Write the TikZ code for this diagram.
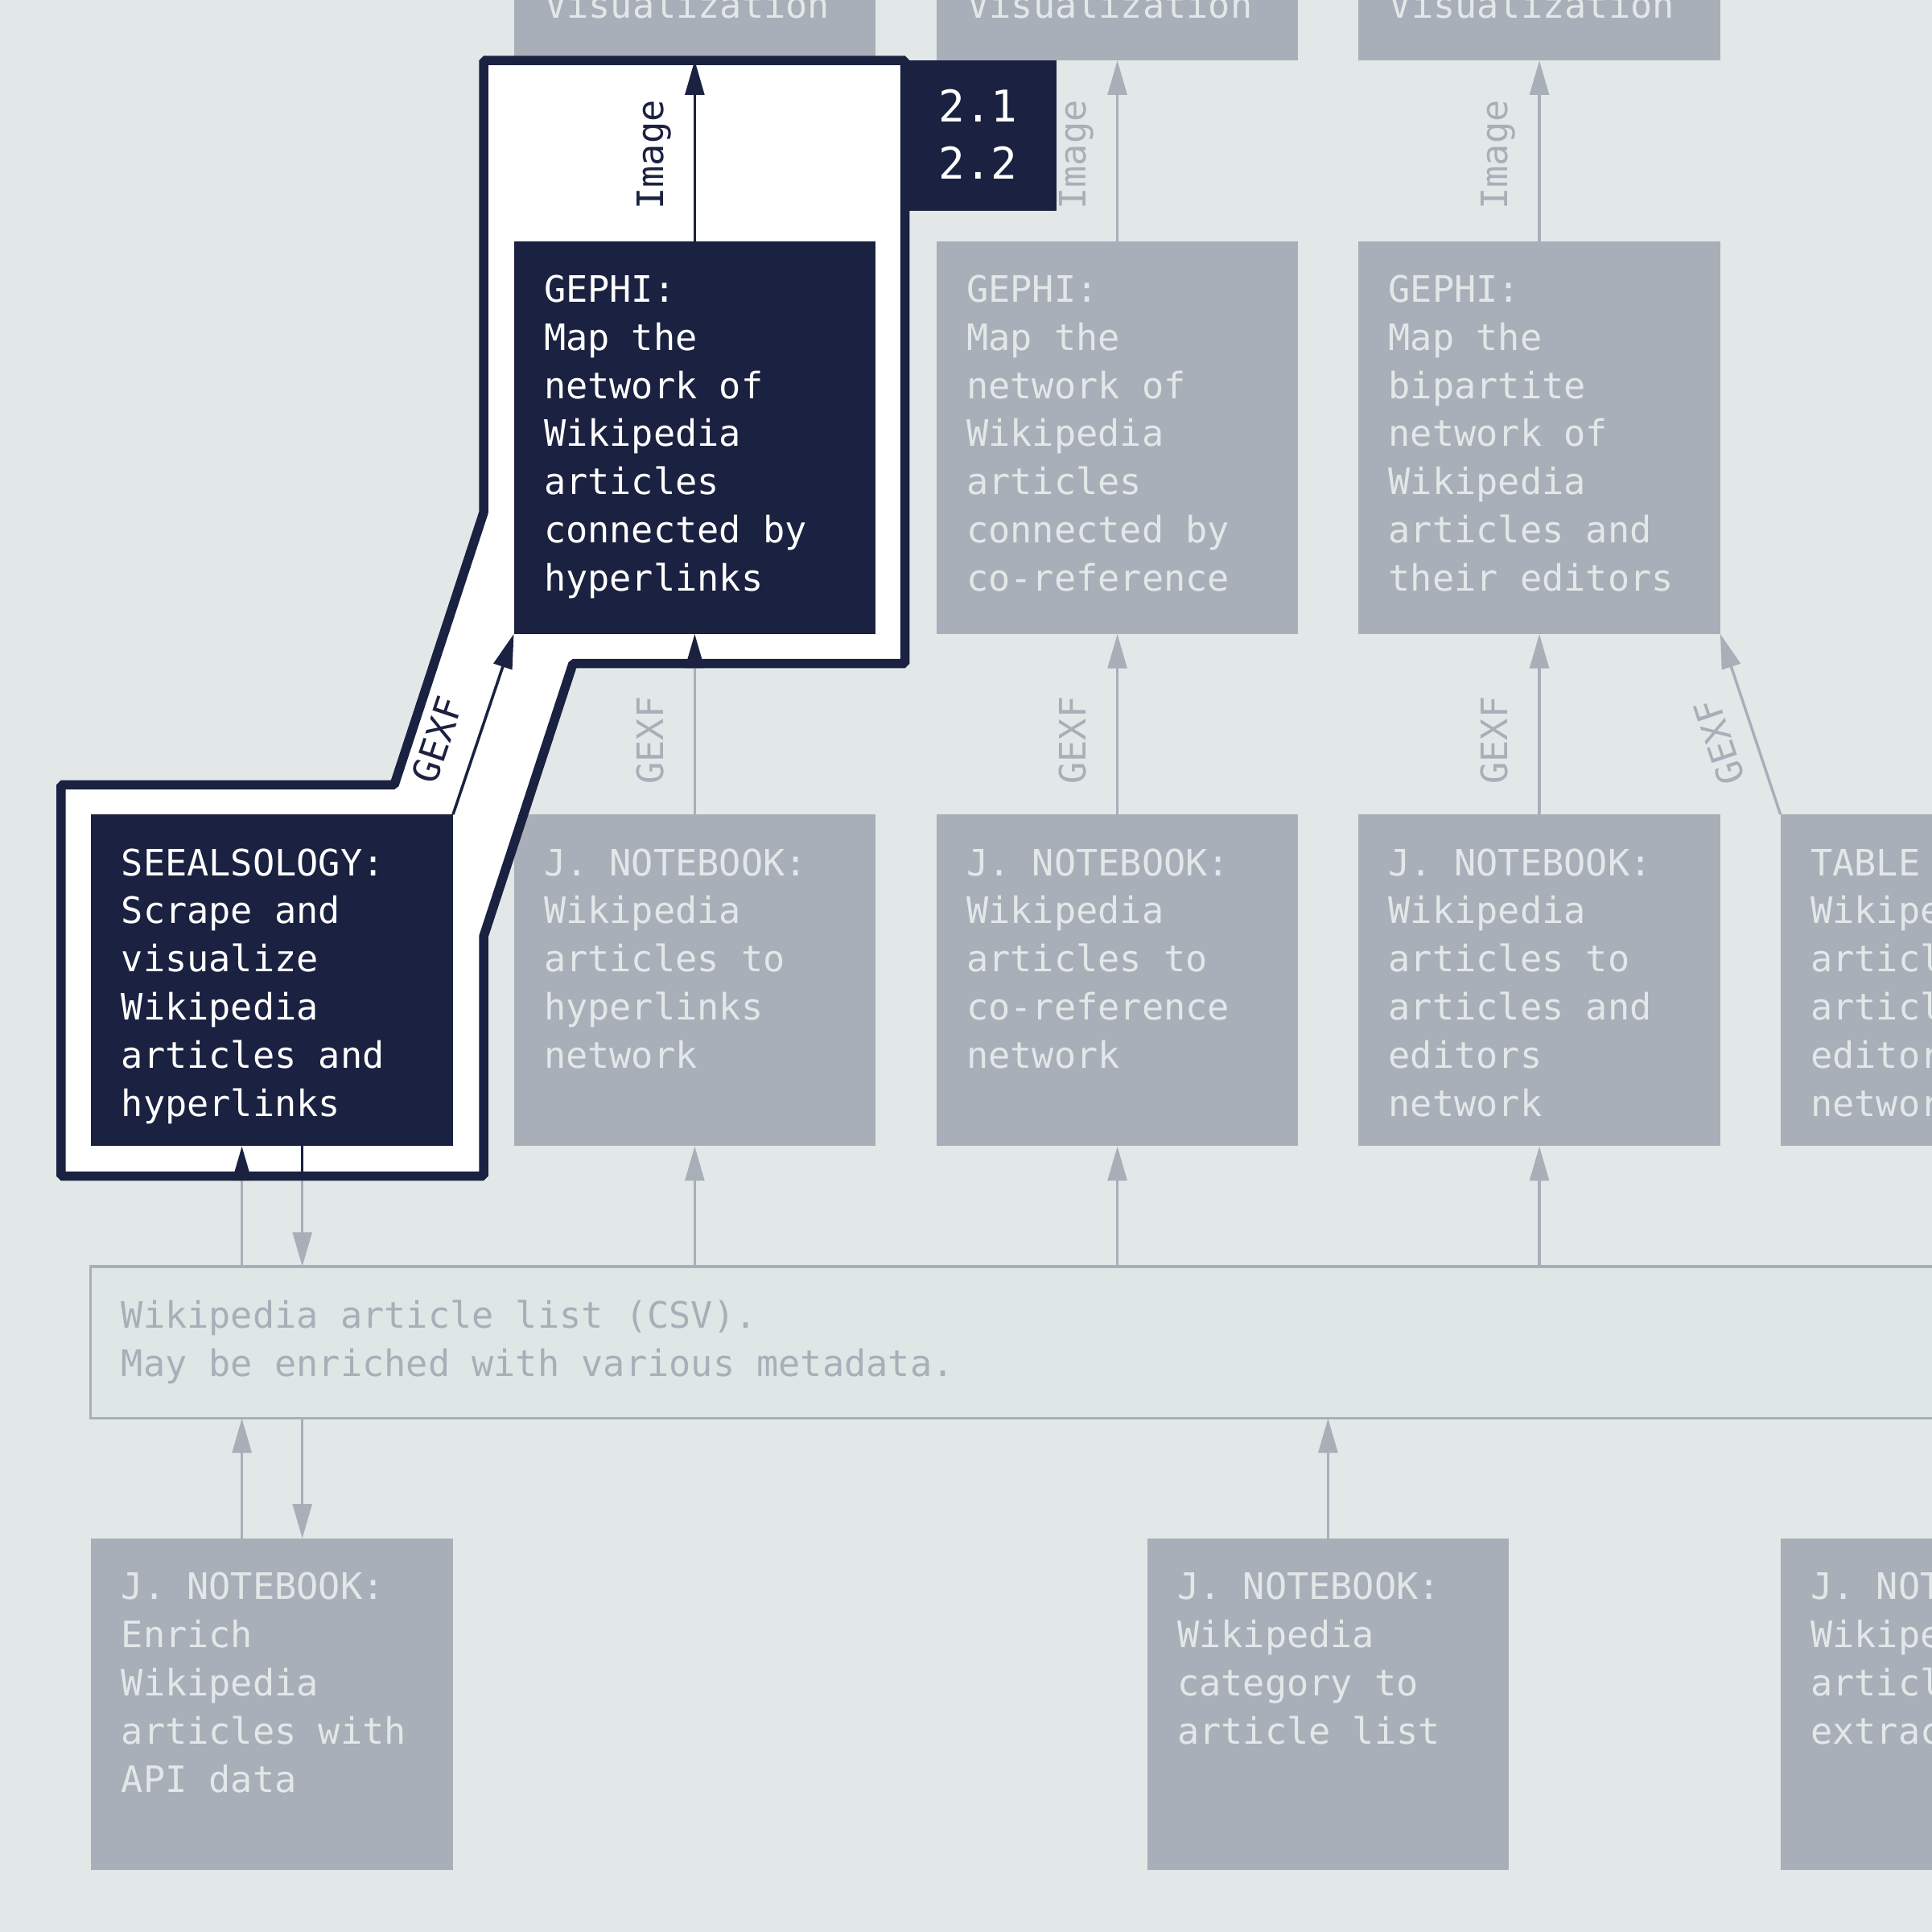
\documentclass[tikz,border=0pt]{standalone}
\usepackage{fontspec}
\usetikzlibrary{arrows.meta,calc}
\newfontfamily\dvmono{DejaVu Sans Mono}
\newcommand\boxfont{\dvmono\fontsize{8.4}{11.1}\selectfont}
\newcommand\tagfont{\dvmono\fontsize{10.1}{13.1}\selectfont}
\definecolor{bgc}{RGB}{226,232,232}
\definecolor{csvc}{RGB}{223,231,230}
\definecolor{greyc}{RGB}{168,175,184}
\definecolor{lighttxt}{RGB}{226,232,232}
\definecolor{navy}{RGB}{27,33,64}
\pgfdeclarelayer{bglayer}
\pgfdeclarelayer{greylayer}
\pgfdeclarelayer{hilayer}
\pgfsetlayers{bglayer,greylayer,hilayer,main}
\tikzset{
  box/.style={rectangle, inner sep=0pt, outer sep=0pt, minimum width=2.935cm, anchor=north west},
  tallbox/.style={box, minimum height=3.186cm},
  shortbox/.style={box, minimum height=2.691cm},
  greybox/.style={fill=greyc},
  darkbox/.style={fill=navy},
  boxtext/.style={inner sep=0pt, outer sep=0pt, anchor=north west, align=left, font=\boxfont},
  greytext/.style={boxtext, text=lighttxt},
  whitetext/.style={boxtext, text=white},
  garrow/.style={color=greyc, line width=0.65pt, -{Triangle[length=0.28cm,width=0.155cm]}},
  darrow/.style={color=navy, line width=0.65pt, -{Triangle[length=0.28cm,width=0.155cm]}},
  lbl/.style={sloped, allow upside down, anchor=south, inner xsep=0pt, inner ysep=#1,
    text height=6.1pt, text depth=0pt, font=\boxfont},
}
\begin{document}
\begin{tikzpicture}[x=0.01cm, y=-0.01cm]
\useasboundingbox (0,0) rectangle (1568,1568);
\begin{pgfonlayer}{bglayer}
  \fill[bgc] (0,0) rectangle (1568,1568);
\end{pgfonlayer}

% ---------- grey nodes ----------
\begin{pgfonlayer}{greylayer}
  % visualization row (only bottoms visible)
  \node[tallbox, greybox] (vA) at (417,-269.8) {};
  \node[tallbox, greybox] (vB) at (760,-269.8) {};
  \node[tallbox, greybox] (vC) at (1102.5,-269.8) {};
  \node[anchor=base west, inner sep=0pt, font=\boxfont, text=lighttxt] (vAt) at (441.5,14.9) {Visualization};
  \node[anchor=base west, inner sep=0pt, font=\boxfont, text=lighttxt] (vBt) at (784.5,14.9) {Visualization};
  \node[anchor=base west, inner sep=0pt, font=\boxfont, text=lighttxt] (vCt) at (1127,14.9) {Visualization};

  % GEPHI row
  \node[tallbox, greybox] (gB) at (760,195.7) {};
  \node[greytext] (gBt) at ($(gB.north west)+(24.5,25)$) {\rule{0pt}{7pt}GEPHI:\\Map the\\network of\\Wikipedia\\articles\\connected by\\co-reference};
  \node[tallbox, greybox] (gC) at (1102.5,195.7) {};
  \node[greytext] (gCt) at ($(gC.north west)+(24.5,25)$) {\rule{0pt}{7pt}GEPHI:\\Map the\\bipartite\\network of\\Wikipedia\\articles and\\their editors};

  % notebook row
  \node[shortbox, greybox] (nA) at (417,661) {};
  \node[greytext] (nAt) at ($(nA.north west)+(24.5,25)$) {\rule{0pt}{7pt}J. NOTEBOOK:\\Wikipedia\\articles to\\hyperlinks\\network};
  \node[shortbox, greybox] (nB) at (760,661) {};
  \node[greytext] (nBt) at ($(nB.north west)+(24.5,25)$) {\rule{0pt}{7pt}J. NOTEBOOK:\\Wikipedia\\articles to\\co-reference\\network};
  \node[shortbox, greybox] (nC) at (1102.5,661) {};
  \node[greytext] (nCt) at ($(nC.north west)+(24.5,25)$) {\rule{0pt}{7pt}J. NOTEBOOK:\\Wikipedia\\articles to\\articles and\\editors\\network};
  \node[shortbox, greybox] (nD) at (1445,661) {};
  \node[greytext] (nDt) at ($(nD.north west)+(24.5,25)$) {\rule{0pt}{7pt}TABLE 2 NET:\\Wikipedia\\articles to\\articles and\\editors\\network};

  % CSV list
  \node[rectangle, anchor=north west, inner sep=0pt, outer sep=0pt, minimum width=20cm, minimum height=1.23cm,
        draw=greyc, line width=0.7pt, fill=csvc] (csv) at (73.5,1028) {};
  \node[boxtext, text=greyc] (csvt) at ($(csv.north west)+(25,25.3)$) {\rule{0pt}{7pt}Wikipedia article list (CSV).\\May be enriched with various metadata.};

  % bottom row
  \node[shortbox, greybox] (b1) at (74,1248.6) {};
  \node[greytext] (b1t) at ($(b1.north west)+(24.5,25)$) {\rule{0pt}{7pt}J. NOTEBOOK:\\Enrich\\Wikipedia\\articles with\\API data};
  \node[shortbox, greybox] (b2) at (931,1248.6) {};
  \node[greytext] (b2t) at ($(b2.north west)+(24.5,25)$) {\rule{0pt}{7pt}J. NOTEBOOK:\\Wikipedia\\category to\\article list};
  \node[shortbox, greybox] (b3) at (1445,1248.6) {};
  \node[greytext] (b3t) at ($(b3.north west)+(24.5,25)$) {\rule{0pt}{7pt}J. NOTEBOOK:\\Wikipedia\\articles\\extraction};
\end{pgfonlayer}

% ---------- dark (highlighted) nodes ----------
\node[tallbox, darkbox] (gA) at (417,195.7) {};
\node[whitetext] (gAt) at ($(gA.north west)+(24.5,25)$) {\rule{0pt}{7pt}GEPHI:\\Map the\\network of\\Wikipedia\\articles\\connected by\\hyperlinks};
\node[shortbox, darkbox] (s) at (74,661) {};
\node[whitetext] (st) at ($(s.north west)+(24.5,25)$) {\rule{0pt}{7pt}SEEALSOLOGY:\\Scrape and\\visualize\\Wikipedia\\articles and\\hyperlinks};
\node[rectangle, darkbox, anchor=north west, inner sep=0pt, outer sep=0pt, minimum width=1.226cm, minimum height=1.22cm] (tag) at (735,49) {};
\node[anchor=north west, inner sep=0pt, align=left, font=\tagfont, text=white] (tagt) at (761,68.5) {\rule{0pt}{8.5pt}2.1\\2.2};

\coordinate (sup) at ([xshift=-0.245cm]s.south);
\coordinate (sdn) at ([xshift=0.245cm]s.south);
\coordinate (bup) at ([xshift=-0.245cm]b1.north);
\coordinate (bdn) at ([xshift=0.245cm]b1.north);

% ---------- grey connectors ----------
\begin{pgfonlayer}{greylayer}
  \draw[garrow] (gB.north) -- node[lbl=0.245cm, pos=0.477, text=greyc] {Image} (vB.south);
  \draw[garrow] (gC.north) -- node[lbl=0.245cm, pos=0.477, text=greyc] {Image} (vC.south);
  \draw[garrow] (nA.north) -- node[lbl=0.245cm, pos=0.41, text=greyc] {GEXF} (gA.south);
  \draw[garrow] (nB.north) -- node[lbl=0.245cm, pos=0.41, text=greyc] {GEXF} (gB.south);
  \draw[garrow] (nC.north) -- node[lbl=0.245cm, pos=0.41, text=greyc] {GEXF} (gC.south);
  \draw[garrow] (nD.north west) -- node[lbl=0.166cm, pos=0.462, text=greyc] {GEXF} (gC.south east);
  \draw[garrow] (csv.north -| nA.south) -- (nA.south);
  \draw[garrow] (csv.north -| nB.south) -- (nB.south);
  \draw[garrow] (csv.north -| nC.south) -- (nC.south);
  \draw[garrow] (csv.north -| sup) -- (sup);
  \draw[garrow] (sdn) -- (csv.north -| sdn);
  \draw[garrow] (bup) -- (csv.south -| bup);
  \draw[garrow] (csv.south -| bdn) -- (bdn);
  \draw[garrow] (b2.north) -- (csv.south -| b2.north);
\end{pgfonlayer}

% ---------- highlight ----------
\begin{pgfonlayer}{hilayer}
  \fill[white] (49.5,637) -- (320,637) -- (392.5,416) -- (392.5,49) -- (734.5,49) -- (734.5,538.5)
     -- (465,538.5) -- (392.5,760) -- (392.5,954.5) -- (49.5,954.5) -- cycle;
  \begin{scope}
    \clip (49.5,637) -- (320,637) -- (392.5,416) -- (392.5,49) -- (734.5,49) -- (734.5,538.5)
     -- (465,538.5) -- (392.5,760) -- (392.5,954.5) -- (49.5,954.5) -- cycle;
    \draw[darrow] (nA.north) -- (gA.south);
    \draw[darrow] (csv.north -| sup) -- (sup);
    \draw[darrow] (sdn) -- (csv.north -| sdn);
  \end{scope}
  \draw[darrow] (gA.north) -- node[lbl=0.245cm, pos=0.477, text=navy] {Image} (vA.south);
  \draw[darrow] (s.north east) -- node[lbl=0.194cm, pos=0.345, text=navy] {GEXF} (gA.south west);
  \draw[navy, line width=0.075cm, line join=bevel] (49.5,637) -- (320,637) -- (392.5,416) -- (392.5,49)
     -- (734.5,49) -- (734.5,538.5) -- (465,538.5) -- (392.5,760) -- (392.5,954.5) -- (49.5,954.5) -- cycle;
\end{pgfonlayer}
\end{tikzpicture}
\end{document}
